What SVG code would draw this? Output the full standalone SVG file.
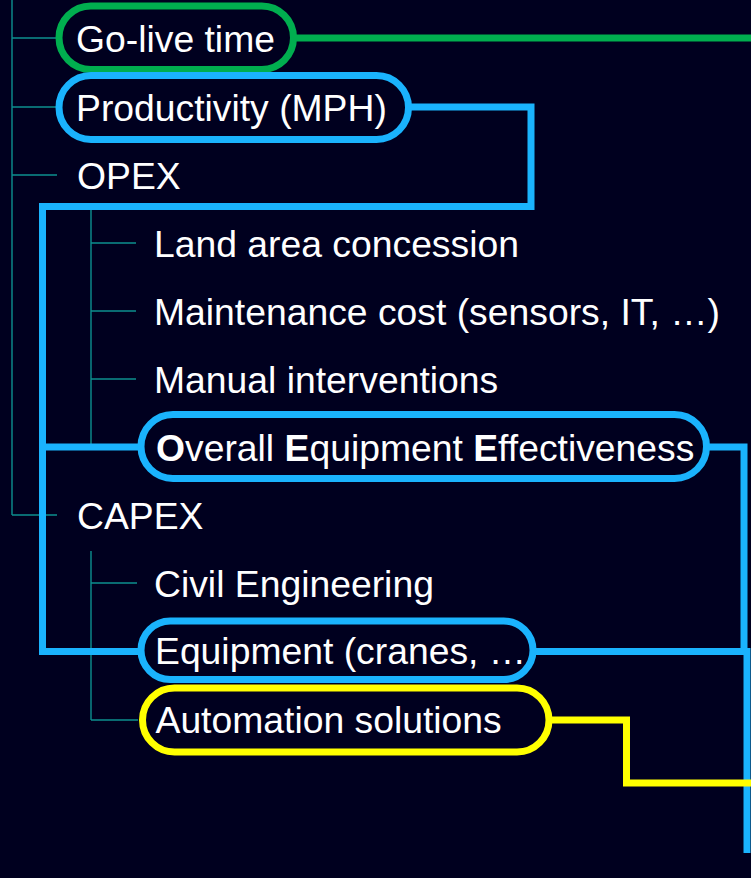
<svg xmlns="http://www.w3.org/2000/svg" width="751" height="878" viewBox="0 0 751 878">
<style>
.tree{stroke:#0c8f8f;stroke-width:1.4;fill:none}
.conn{fill:none;stroke-width:7;stroke-linejoin:miter;stroke-linecap:butt}
.pill{fill:#00001f;stroke-width:7}
.blue{stroke:#1ab3fd}
.green{stroke:#00ae4f}
.yellow{stroke:#ffff00}
text{font-family:"Liberation Sans",Arial,sans-serif;font-size:37.3px;fill:#ffffff}
.b{font-weight:bold}
</style>
<rect x="0" y="0" width="751" height="878" fill="#00001f"/>
<g id="tree">
<path class="tree" d="M12 0V515M12 38H57M12 107H57M12 175H57M12 515H57"/>
<path class="tree" d="M91 207V447M91 243H136M91 311H136M91 379H136M91 447H136"/>
<path class="tree" d="M91 551V720M91 583H137M91 651H137M91 720H138"/>
</g>
<g id="connectors">
<path class="conn green" d="M293 38H751"/>
<path class="conn blue" d="M408 107H531V206.5H42.5V651.5H141"/>
<path class="conn blue" d="M42.5 447H141"/>
<path class="conn blue" d="M706 447H744V655"/>
<path class="conn blue" d="M533 651.5H747V853"/>
<path class="conn yellow" d="M549 720H626.5V783H751"/>
</g>
<g id="go-live">
<rect class="pill green" x="59" y="6" width="234.5" height="63.5" rx="31.75"/>
<text x="76" y="51.5">Go-live time</text>
</g>
<g id="productivity">
<rect class="pill blue" x="59" y="75.5" width="349.5" height="64" rx="32"/>
<text x="76" y="120.5">Productivity (MPH)</text>
</g>
<g id="opex">
<text x="77" y="189">OPEX</text>
</g>
<g id="land">
<text x="154" y="256.5">Land area concession</text>
</g>
<g id="maintenance">
<text x="154" y="324.5">Maintenance cost (sensors, IT, …)</text>
</g>
<g id="manual">
<text x="154" y="392.5">Manual interventions</text>
</g>
<g id="oee">
<rect class="pill blue" x="141" y="414.5" width="565.5" height="64" rx="32"/>
<text x="156" y="460.5"><tspan class="b">O</tspan>verall <tspan class="b">E</tspan>quipment <tspan class="b">E</tspan>ffectiveness</text>
</g>
<g id="capex">
<text x="77" y="528.5">CAPEX</text>
</g>
<g id="civil">
<text x="154" y="596.5">Civil Engineering</text>
</g>
<g id="equipment">
<rect class="pill blue" x="141" y="621" width="392" height="58.5" rx="29.25"/>
<text x="155" y="663.5">Equipment (cranes, …</text>
</g>
<g id="automation">
<rect class="pill yellow" x="142.5" y="688" width="406.5" height="64" rx="32"/>
<text x="155.5" y="733">Automation solutions</text>
</g>
</svg>
